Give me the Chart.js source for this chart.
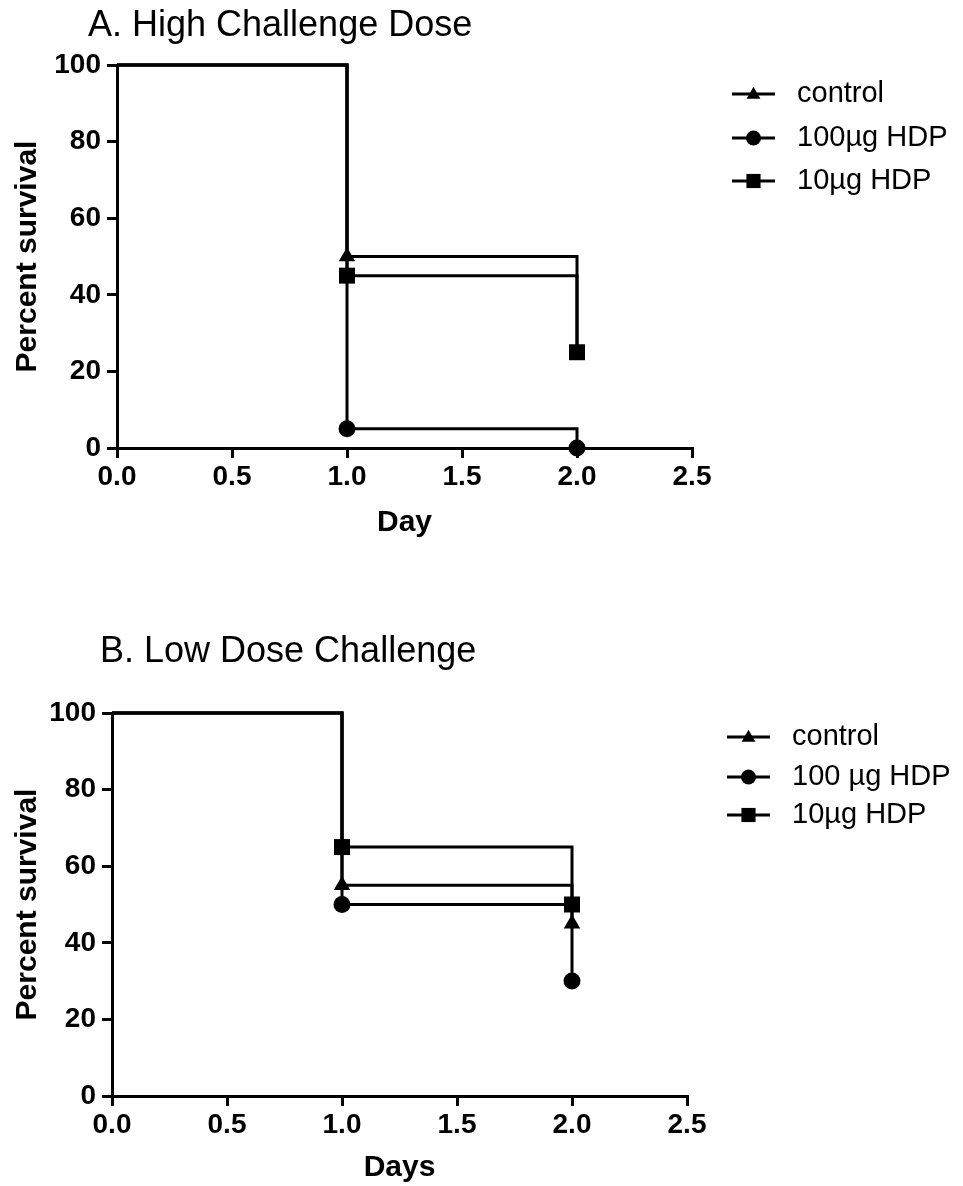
<!DOCTYPE html>
<html><head><meta charset="utf-8">
<script src="https://cdn.jsdelivr.net/npm/chart.js@4.4.1/dist/chart.umd.min.js"></script>
<style>
html,body{margin:0;padding:0;background:#fff;}
#wrap{position:relative;width:963px;height:1186px;overflow:hidden;background:#fff;}
canvas{position:absolute;left:0;}
</style></head><body>
<div id="wrap">
<canvas id="cA" width="963" height="590" style="top:0;width:963px;height:590px"></canvas>
<canvas id="cB" width="963" height="596" style="top:590px;width:963px;height:596px"></canvas>
</div>
<script>
// ---- data ----
const days = [0, 1, 2];
const xTicks = [0, 0.5, 1, 1.5, 2, 2.5];
const yTicks = [0, 20, 40, 60, 80, 100];

const titleA = 'A. High Challenge Dose';
const xTitleA = 'Day';
const labelsA = ['control', '100\u00b5g HDP', '10\u00b5g HDP'];
const controlA = [100, 50, 25];
const hdp100A = [100, 5, 0];
const hdp10A = [100, 45, 25];

const titleB = 'B. Low Dose Challenge';
const xTitleB = 'Days';
const labelsB = ['control', '100 \u00b5g HDP', '10\u00b5g HDP'];
const controlB = [100, 55, 45];
const hdp100B = [100, 50, 30];
const hdp10B = [100, 65, 50];

const yTitle = 'Percent survival';

// ---- styling ----
const FONT = '"Liberation Sans", Arial, Helvetica, sans-serif';
const styles = ['triangle', 'circle', 'rect'];
const radii = {triangle: 9.5, circle: 8.5, rect: 11.3};
const legRadii = {triangle: 8, circle: 7.5, rect: 10};

function drawMarker(ctx, style, r, x, y) {
  ctx.beginPath();
  if (style === 'circle') {
    ctx.arc(x, y, r, 0, Math.PI * 2);
  } else if (style === 'rect') {
    const s = r * Math.SQRT1_2;
    ctx.rect(x - s, y - s, 2 * s, 2 * s);
  } else {
    const h = r * 1.5, w = r * Math.sqrt(3);
    ctx.moveTo(x, y - h * 0.6);
    ctx.lineTo(x + w / 2, y + h * 0.4);
    ctx.lineTo(x - w / 2, y + h * 0.4);
    ctx.closePath();
  }
  ctx.fill();
}

const decor = {
  id: 'decor',
  afterDraw(chart, args, o) {
    const ctx = chart.ctx;
    ctx.save();
    ctx.fillStyle = '#000';
    ctx.strokeStyle = '#000';
    ctx.font = '36px ' + FONT;
    ctx.textAlign = 'left';
    ctx.textBaseline = 'alphabetic';
    ctx.fillText(o.title, o.titleX, o.titleY);
    ctx.font = '29px ' + FONT;
    ctx.textBaseline = 'middle';
    chart.data.datasets.forEach((ds, i) => {
      const y = o.legendY[i];
      ctx.lineWidth = 3;
      ctx.beginPath();
      ctx.moveTo(o.legX0, y);
      ctx.lineTo(o.legX1, y);
      ctx.stroke();
      drawMarker(ctx, ds.pointStyle, legRadii[ds.pointStyle], (o.legX0 + o.legX1) / 2, y);
      ctx.fillText(ds.label, o.textX, y);
    });
    ctx.restore();
  }
};

function makeDatasets(labels, series) {
  return series.map((vals, i) => ({
    label: labels[i],
    data: days.map((d, j) => ({x: d, y: vals[j]})),
    stepped: true,
    borderColor: '#000',
    borderWidth: 3,
    backgroundColor: '#000',
    pointStyle: styles[i],
    pointRadius: days.map(d => d === 0 ? 0 : radii[styles[i]]),
    pointHoverRadius: days.map(d => d === 0 ? 0 : radii[styles[i]]),
    pointBackgroundColor: '#000',
    pointBorderColor: '#000',
    pointBorderWidth: 0,
    fill: false,
    clip: false,
    order: 3 - i
  }));
}

function makeChart(id, cfg) {
  const tickFont = {family: FONT, size: 28, weight: 'bold'};
  const titleFont = {family: FONT, size: 30, weight: 'bold', lineHeight: 1};
  return new Chart(document.getElementById(id), {
    type: 'line',
    data: {datasets: makeDatasets(cfg.labels, cfg.series)},
    plugins: [decor],
    options: {
      responsive: false,
      devicePixelRatio: 1,
      animation: false,
      events: [],
      layout: {padding: {left: 0, top: cfg.plotTop, right: 963 - cfg.plotRight, bottom: cfg.canvasH - cfg.plotBottom - cfg.xAxisH}},
      plugins: {
        legend: {display: false},
        title: {display: false},
        tooltip: {enabled: false},
        decor: cfg.decor
      },
      scales: {
        x: {
          type: 'linear', min: 0, max: 2.5,
          afterBuildTicks: s => { s.ticks = xTicks.map(v => ({value: v})); },
          afterFit: s => { s.height = cfg.xAxisH; },
          ticks: {color: '#000', font: tickFont, padding: 2, maxRotation: 0, autoSkip: false,
                  callback: v => Number(v).toFixed(1)},
          grid: {display: true, drawOnChartArea: false, drawTicks: true, tickLength: 10, color: '#000', lineWidth: 3},
          border: {display: true, color: '#000', width: 3},
          title: {display: true, text: cfg.xTitle, color: '#000', font: titleFont, padding: {top: 0, bottom: cfg.xTitlePad}}
        },
        y: {
          type: 'linear', min: 0, max: 100,
          afterBuildTicks: s => { s.ticks = yTicks.map(v => ({value: v})); },
          afterFit: s => { s.width = cfg.plotLeft; },
          ticks: {color: '#000', font: tickFont, padding: 6, autoSkip: false},
          grid: {display: true, drawOnChartArea: false, drawTicks: true, tickLength: 10, color: '#000', lineWidth: 3},
          border: {display: true, color: '#000', width: 3},
          title: {display: true, text: yTitle, color: '#000', font: titleFont, padding: {top: 13, bottom: 0}}
        }
      }
    }
  });
}

makeChart('cA', {
  labels: labelsA, series: [controlA, hdp100A, hdp10A], xTitle: xTitleA,
  canvasH: 590, plotLeft: 117, plotRight: 692, plotTop: 65, plotBottom: 448, xAxisH: 100, xTitlePad: 10,
  decor: {title: titleA, titleX: 88, titleY: 36, legendY: [94, 138, 181], legX0: 732, legX1: 775, textX: 797}
});

makeChart('cB', {
  labels: labelsB, series: [controlB, hdp100B, hdp10B], xTitle: xTitleB,
  canvasH: 596, plotLeft: 112, plotRight: 687, plotTop: 123, plotBottom: 506, xAxisH: 90, xTitlePad: 3,
  decor: {title: titleB, titleX: 100, titleY: 72, legendY: [147, 187, 225], legX0: 727, legX1: 770, textX: 792}
});
</script>
</body></html>
